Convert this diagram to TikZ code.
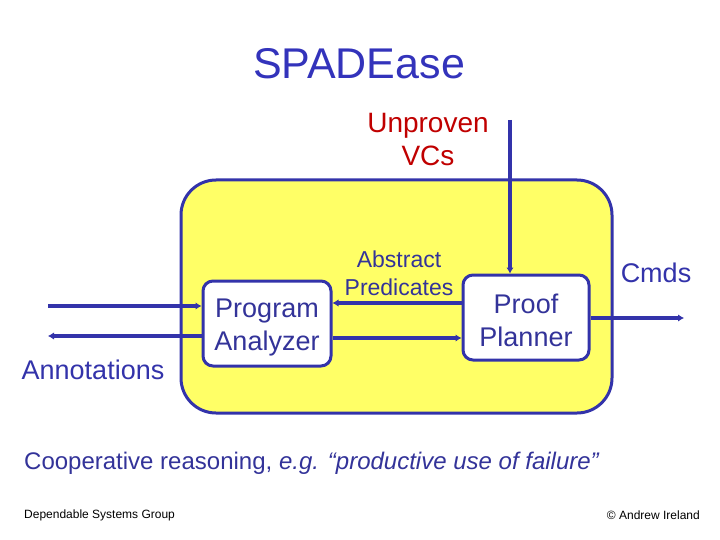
\documentclass[tikz,border=0pt]{standalone}
\usepackage{fontspec}
\setmainfont{Liberation Sans}
\usetikzlibrary{arrows.meta}
\definecolor{lineblue}{RGB}{51,51,170}
\definecolor{textblue}{RGB}{51,51,153}
\definecolor{titleblue}{RGB}{51,51,187}
\definecolor{vcred}{RGB}{192,0,0}
\definecolor{boxyellow}{RGB}{255,255,102}
\tikzset{
  compbox/.style={draw=lineblue, line width=3pt, fill=white, rounded corners=10pt,
    inner sep=0pt, minimum width=#1, minimum height=85pt, align=center,
    text=textblue, font=\fontsize{27}{33}\selectfont},
  flow/.style={draw=lineblue, line width=4pt, -{Latex[length=6pt,width=7.5pt]}},
  lbl/.style={inner sep=0pt, align=center}
}
\begin{document}
\begin{tikzpicture}[x=1pt,y=-1pt]
\useasboundingbox (0,0) rectangle (720,540);
% title
\node[lbl, text=titleblue, font=\fontsize{43}{50}\selectfont] (title) at (359,64) {SPADEase};
% big box
\node[draw=lineblue, line width=3pt, fill=boxyellow, rounded corners=35pt,
      minimum width=431pt, minimum height=233pt, inner sep=0pt] (sys) at (396.5,296.5) {};
% components
\node[compbox=128pt] (pa) at (267,323.5) {\raisebox{-4pt}[\height][\depth]{\parbox{128pt}{\centering Program\\Analyzer}}};
\node[compbox=126pt] (pp) at (526,317.5) {\raisebox{-3pt}[\height][\depth]{\parbox{126pt}{\centering Proof\\Planner}}};
% labels
\node[lbl, text=vcred, font=\fontsize{28}{33}\selectfont] (vc) at (428,140) {Unproven\\VCs};
\node[lbl, text=textblue, font=\fontsize{23}{28}\selectfont] (ap) at (399,273) {Abstract\\Predicates};
\node[lbl, text=lineblue, font=\fontsize{27}{32}\selectfont] (cmds) at (656,273) {Cmds};
\node[lbl, text=lineblue, font=\fontsize{27}{32}\selectfont] (ann) at (93,370) {Annotations};
% free ends
\coordinate (inL) at (48,306);
\coordinate (outL) at (48,336);
\coordinate (vctop) at (510,120);
\coordinate (cmdend) at (684,318);
% connectors
\draw[flow] (inL) -- (pa.west |- inL);
\draw[flow] (pa.west |- outL) -- (outL);
\draw[flow] (pp.west |- 0,303) -- (pa.east |- 0,303);
\draw[flow] (pa.east |- 0,338) -- (pp.west |- 0,338);
\draw[flow] (vctop) -- (vctop |- pp.north);
\draw[flow] (pp.east |- cmdend) -- (cmdend);
% bottom text
\node[lbl, anchor=west, text=textblue, font=\fontsize{24}{28}\selectfont] (coop) at (24,463)
  {Cooperative reasoning, \textit{e.g. “productive use of failure”}};
\node[lbl, anchor=west, font=\fontsize{12}{14}\selectfont] (dsg) at (24,515) {Dependable Systems Group};
\node[lbl, anchor=east, font=\fontsize{12}{14}\selectfont] (copy) at (700,515) {© Andrew Ireland};
\end{tikzpicture}
\end{document}
